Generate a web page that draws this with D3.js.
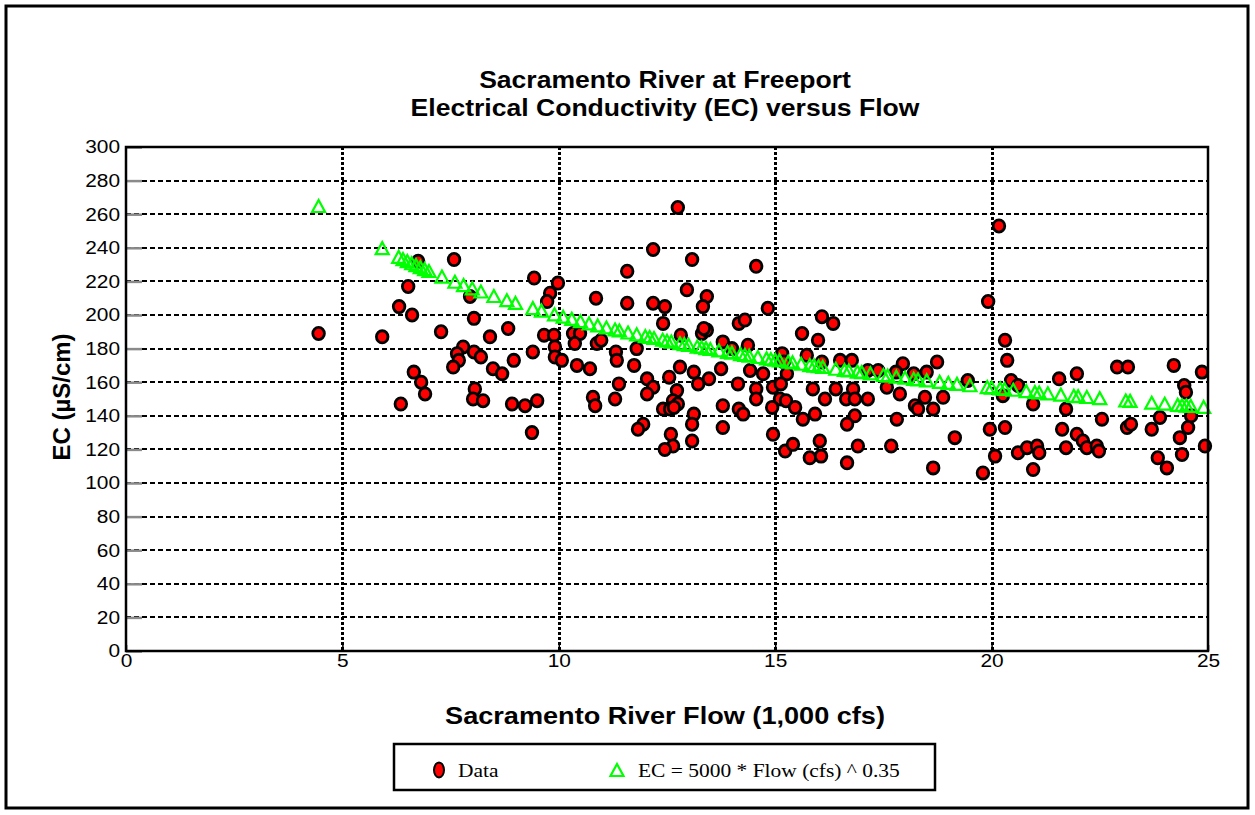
<!DOCTYPE html>
<html>
<head>
<meta charset="utf-8">
<script src="https://cdn.jsdelivr.net/npm/d3@7"></script>
<style>
  body { margin: 0; background: #fff; }
</style>
</head>
<body>
<div id="chart"></div>
<script>
// flow in 1,000 cfs, EC in uS/cm
const dataPoints = [
  [4.45,189],[5.92,187],[6.75,232],[7.58,233],[6.52,217],[9.43,222],[6.31,205],[6.61,200],[7.95,211],[8.04,198],
  [7.28,190],[8.41,187],[8.83,192],[7.79,181],[7.65,177],[7.69,173],[7.56,169],[8.04,178],[8.2,175],[8.48,168],
  [8.69,165],[8.96,173],[9.4,178],[6.65,166],[6.82,160],[6.91,153],[6.35,147],[8.06,156],[8.02,150],[8.25,149],
  [8.92,147],[9.22,146],[9.5,149],[9.38,130],
  [9.98,219],[9.8,213],[9.73,208],[10.86,210],[11.58,226],[12.18,239],[12.75,264],[13.08,233],[12.96,215],[11.58,207],
  [12.18,207],[12.45,205],[13.42,211],[13.33,205],[12.41,195],[14.16,195],[14.3,197],[12.82,188],[13.31,189],[13.42,191],
  [13.35,192],[9.66,188],[9.89,188],[10.33,189],[10.49,189],[9.91,181],[10.37,183],[10.88,183],[10.98,185],[11.8,180],
  [11.32,178],[11.34,173],[9.91,175],[10.07,173],[10.42,170],[10.72,168],[11.74,170],[12.8,169],[13.12,166],[13.75,168],
  [13.47,162],[13.22,159],[12.55,163],[12.04,162],[12.18,157],[12.04,153],[12.73,155],[11.39,159],[10.79,151],[10.84,146],
  [11.3,150],[12.64,149],[12.75,147],[12.41,144],[12.57,144],[12.66,145],[13.12,141],[13.08,135],[13.79,146],[14.16,144],
  [14.26,141],[14.14,159],[13.79,133],[11.95,135],[11.83,132],[12.59,129],[12.64,122],[12.45,120],[13.08,125],[13.79,184],
  [14.0,180],
  [14.56,229],[14.83,204],[16.08,199],[16.34,195],[15.62,189],[15.99,185],[14.37,182],[15.16,177],[15.73,176],[16.5,173],
  [16.77,173],[16.08,172],[15.2,172],[14.42,167],[14.72,165],[15.27,165],[17.14,167],[17.38,167],[17.95,171],[18.2,165],
  [18.5,166],[18.74,172],[17.79,166],[17.58,157],[14.56,156],[14.95,157],[15.13,159],[15.87,156],[16.4,156],[16.8,156],
  [14.56,150],[15.11,150],[15.25,149],[16.15,150],[16.64,150],[16.84,150],[17.14,150],[17.88,153],[18.46,151],[18.88,151],
  [18.23,146],[18.3,144],[18.65,144],[14.93,145],[15.46,145],[15.92,141],[15.64,138],[16.84,140],[16.66,135],[17.81,138],
  [14.95,129],[15.23,119],[15.41,123],[15.8,115],[16.03,125],[16.06,116],[16.66,112],[16.91,122],[17.68,122],[18.65,109],
  [19.15,127],
  [20.17,253],[19.92,208],[20.31,185],[20.36,173],[19.45,161],[20.45,161],[20.61,158],[20.26,152],[20.96,147],[21.56,162],
  [21.97,165],[22.9,169],[23.15,169],[24.21,170],[24.86,166],[24.45,158],[24.49,154],[21.72,144],[19.96,132],[20.31,133],
  [20.08,116],[19.8,106],[20.61,118],[20.82,121],[21.05,122],[21.1,118],[20.96,108],[21.63,132],[21.72,121],[21.97,129],
  [22.11,125],[22.2,121],[22.43,122],[22.48,119],[22.55,138],[23.13,133],[23.22,135],[23.7,132],[23.89,139],[23.84,115],
  [24.05,109],[24.35,127],[24.54,133],[24.61,140],[24.4,117],[24.93,122]
];

// triangles: EC = 5000 * Flow(cfs)^-0.35, values as read on the curve
const fitPoints = [
  [4.45,264.3],[5.92,239.2],[6.3,234.0],[6.4,232.7],[6.5,231.5],[6.6,230.2],[6.7,229.1],[6.8,227.9],[6.9,226.7],[7.0,225.6],
  [7.3,222.3],[7.6,219.2],[7.8,217.2],[8.0,215.3],[8.2,213.4],[8.5,210.7],[8.8,208.2],[9.0,206.6],[9.4,203.5],[9.6,202.0],
  [9.9,199.8],[10.1,198.4],[10.3,197.1],[10.5,195.7],[10.7,194.4],[10.9,193.2],[11.1,192.0],[11.3,190.8],[11.4,190.2],[11.6,189.0],
  [11.8,187.9],[12.0,186.8],[12.1,186.3],[12.2,185.7],[12.4,184.7],[12.5,184.1],[12.6,183.6],[12.8,182.6],[12.9,182.1],[13.0,181.6],
  [13.2,180.6],[13.3,180.2],[13.4,179.7],[13.5,179.2],[13.7,178.3],[13.9,177.4],[14.0,177.0],[14.2,176.1],[14.3,175.7],[14.4,175.2],
  [14.6,174.4],[14.8,173.6],[14.9,173.2],[15.0,172.8],[15.1,172.4],[15.3,171.6],[15.4,171.2],[15.6,170.4],[15.8,169.6],[15.9,169.3],
  [16.0,168.9],[16.1,168.5],[16.4,167.4],[16.6,166.7],[16.7,166.4],[16.9,165.7],[17.0,165.4],[17.2,164.7],[17.5,163.7],[17.6,163.3],
  [17.8,162.7],[18.0,162.1],[18.2,161.4],[18.3,161.1],[18.5,160.5],[18.8,159.6],[19.0,159.0],[19.2,158.4],[19.5,157.6],[19.9,156.5],
  [20.0,156.2],[20.2,155.7],[20.3,155.4],[20.5,154.9],[20.8,154.1],[21.0,153.5],[21.1,153.3],[21.3,152.8],[21.6,152.0],[21.9,151.3],
  [22.0,151.1],[22.2,150.6],[22.5,149.9],[23.1,148.5],[23.2,148.3],[23.7,147.2],[24.0,146.6],[24.3,145.9],[24.4,145.7],[24.5,145.5],
  [24.6,145.3],[24.9,144.7]
];

const xTicks = [0, 5, 10, 15, 20, 25];
const yTicks = [0, 20, 40, 60, 80, 100, 120, 140, 160, 180, 200, 220, 240, 260, 280, 300];
const xGrid = [5, 10, 15, 20];
const yGrid = [20, 40, 60, 80, 100, 120, 140, 160, 180, 200, 220, 240, 260, 280];

const titleLines = ["Sacramento River at Freeport", "Electrical Conductivity (EC) versus Flow"];
const xTitle = "Sacramento River Flow (1,000 cfs)";
const yTitle = "EC (µS/cm)";
const legendLabels = ["Data", "EC = 5000 * Flow (cfs) ^ 0.35"];

const width = 1255, height = 815;
const plot = {left: 126, right: 1208, top: 147, bottom: 651};
const sans = "'Liberation Sans', Arial, Helvetica, sans-serif";
const serif = "'Liberation Serif', 'Times New Roman', serif";
const stretch = 1.13; // the original text is a bit wider than plain Arial

const x = d3.scaleLinear([0, 25], [plot.left, plot.right]);
const y = d3.scaleLinear([0, 300], [plot.bottom, plot.top]);

const svg = d3.select("#chart").append("svg")
  .attr("width", width)
  .attr("height", height)
  .style("display", "block");

// outer frame
svg.append("rect")
  .attr("x", 6).attr("y", 6)
  .attr("width", 1242).attr("height", 802)
  .attr("fill", "#fff")
  .attr("stroke", "#000")
  .attr("stroke-width", 3);

// title
titleLines.forEach((t, i) => {
  svg.append("text")
    .attr("transform", `translate(665,${88 + i * 28}) scale(${stretch},1)`)
    .attr("text-anchor", "middle")
    .attr("font-family", sans)
    .attr("font-weight", "bold")
    .attr("font-size", 23.5)
    .text(t);
});

// grid
svg.append("g")
  .attr("shape-rendering", "crispEdges")
  .selectAll("line")
  .data(yGrid)
  .join("line")
  .attr("x1", plot.left).attr("x2", plot.right)
  .attr("y1", d => Math.round(y(d))).attr("y2", d => Math.round(y(d)))
  .attr("stroke", "#000")
  .attr("stroke-width", 2)
  .attr("stroke-dasharray", "5,3");

svg.append("g")
  .attr("shape-rendering", "crispEdges")
  .selectAll("line")
  .data(xGrid)
  .join("line")
  .attr("x1", d => Math.round(x(d))).attr("x2", d => Math.round(x(d)))
  .attr("y1", plot.top).attr("y2", plot.bottom)
  .attr("stroke", "#000")
  .attr("stroke-width", 3)
  .attr("stroke-dasharray", "3,2");

// y axis
const yAxis = svg.append("g")
  .attr("transform", `translate(${plot.left},0)`)
  .call(d3.axisLeft(y).tickValues(yTicks).tickSizeInner(-16).tickSizeOuter(0).tickPadding(6));
yAxis.selectAll(".tick line").attr("stroke", "#8a8a8a").attr("stroke-width", 2.5);
yAxis.selectAll(".tick text")
  .attr("x", 0)
  .attr("transform", `translate(-6,0) scale(${stretch},1)`)
  .attr("font-family", sans)
  .attr("font-size", 18.5)
  .attr("fill", "#000");

// x axis
const xAxis = svg.append("g")
  .attr("transform", `translate(0,${plot.bottom})`)
  .call(d3.axisBottom(x).tickValues(xTicks).tickSizeInner(-6).tickSizeOuter(0).tickPadding(3));
xAxis.selectAll(".tick line").attr("stroke", "#000").attr("stroke-width", 1.5);
xAxis.selectAll(".tick text")
  .attr("transform", `scale(${stretch},1)`)
  .attr("font-family", sans)
  .attr("font-size", 18.5)
  .attr("fill", "#000");
svg.selectAll(".domain").remove();

// axis titles
svg.append("text")
  .attr("transform", `translate(665,724) scale(${stretch},1)`)
  .attr("text-anchor", "middle")
  .attr("font-family", sans)
  .attr("font-weight", "bold")
  .attr("font-size", 24)
  .text(xTitle);

svg.append("text")
  .attr("transform", "translate(70,397) rotate(-90)")
  .attr("text-anchor", "middle")
  .attr("font-family", sans)
  .attr("font-weight", "bold")
  .attr("font-size", 24)
  .text(yTitle);

// data points
svg.append("g")
  .selectAll("ellipse")
  .data(dataPoints)
  .join("ellipse")
  .attr("cx", d => x(d[0]))
  .attr("cy", d => y(d[1]))
  .attr("rx", 5.8)
  .attr("ry", 6.1)
  .attr("fill", "#ff0000")
  .attr("stroke", "#000")
  .attr("stroke-width", 2.8);

// fitted curve triangles
const tri = "M0,-7L6.5,5L-6.5,5Z";
svg.append("g")
  .selectAll("path")
  .data(fitPoints)
  .join("path")
  .attr("transform", d => `translate(${x(d[0])},${y(d[1])})`)
  .attr("d", tri)
  .attr("fill", "none")
  .attr("stroke", "#00ff00")
  .attr("stroke-width", 2.2);

// plot frame
svg.append("rect")
  .attr("x", plot.left).attr("y", plot.top)
  .attr("width", plot.right - plot.left)
  .attr("height", plot.bottom - plot.top)
  .attr("fill", "none")
  .attr("stroke", "#000")
  .attr("stroke-width", 2.5);

// legend
const lg = svg.append("g");
lg.append("rect")
  .attr("x", 394).attr("y", 744)
  .attr("width", 541).attr("height", 46)
  .attr("fill", "#fff")
  .attr("stroke", "#000")
  .attr("stroke-width", 2.5);
lg.append("ellipse")
  .attr("cx", 439).attr("cy", 770)
  .attr("rx", 5).attr("ry", 7.5)
  .attr("fill", "#ff0000")
  .attr("stroke", "#000")
  .attr("stroke-width", 2);
lg.append("path")
  .attr("transform", "translate(617,771)")
  .attr("d", tri)
  .attr("fill", "none")
  .attr("stroke", "#00ff00")
  .attr("stroke-width", 2.2);
[[458, legendLabels[0]], [638, legendLabels[1]]].forEach(([lx, t]) => {
  lg.append("text")
    .attr("transform", `translate(${lx},777) scale(${stretch},1)`)
    .attr("font-family", serif)
    .attr("font-size", 19)
    .text(t);
});
</script>
</body>
</html>
